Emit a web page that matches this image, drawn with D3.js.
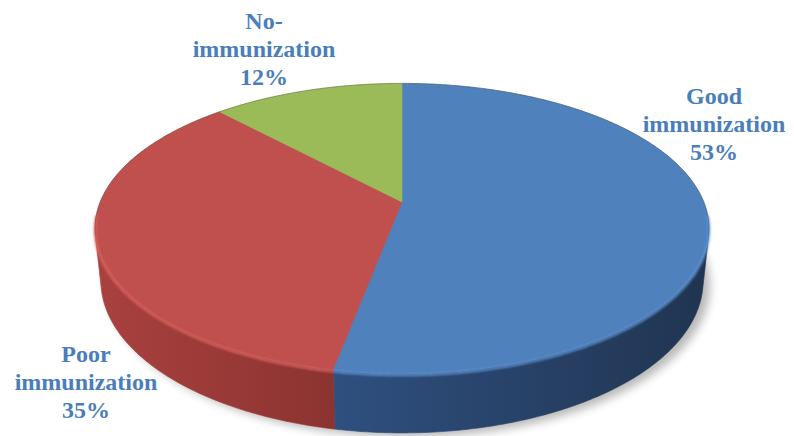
<!DOCTYPE html>
<html><head><meta charset="utf-8">
<script src="https://cdn.jsdelivr.net/npm/d3@7"></script>
<style>html,body{margin:0;padding:0;background:#fff;}svg{display:block;}</style>
</head><body>
<svg id="chart" width="794" height="436"></svg>
<script>
// ---- data ----
const categories = ["Good immunization", "Poor immunization", "No-immunization"];
const values = [53, 35, 12];
const labelLines = [["Good", "immunization", "53%"], ["Poor", "immunization", "35%"], ["No-", "immunization", "12%"]];

// ---- styles ----
const topColors = ["#4f81bd", "#c0504d", "#9bbb59"];
const sideLight = ["#2f5080", "#aa4643", "#7a9446"];
const sideDark = ["#203450", "#8a3330", "#5e7334"];
const rimColors = ["#6196d6", "#dc6663", "#b5d46e"];
const color = d3.scaleOrdinal(categories, topColors);

const svg = d3.select("#chart");
const W = 794, H = 436;

// ---- 3D perspective projection ----
const cx = 402, cy = 202;
const sinA = 0.465, cosA = Math.sqrt(1 - sinA * sinA);
const D = 4.83, f = 301.8 * D, thick = 0.197;
function project(phi, y) {
  const x3 = Math.sin(phi), z3 = -Math.cos(phi);
  const camY = y * cosA - z3 * sinA;
  const depth = D - y * sinA - z3 * cosA;
  return [cx + f * x3 / depth, cy - f * camY / depth];
}
function projCenter(y) {
  const camY = y * cosA, depth = D - y * sinA;
  return [cx, cy - f * camY / depth];
}
const visLim = Math.acos(-1 / (D * cosA));
const vis0 = visLim, vis1 = 2 * Math.PI - visLim;

const pie = d3.pie().sort(null).startAngle(0).endAngle(2 * Math.PI);
const arcs = pie(values);

function samples(a0, a1) {
  const n = Math.max(2, Math.ceil((a1 - a0) / 0.01));
  return d3.range(n + 1).map(i => a0 + (a1 - a0) * i / n);
}
const line = d3.line();

const defs = svg.append("defs");
const blur = defs.append("filter").attr("id", "shadowBlur").attr("x", "-20%").attr("y", "-20%").attr("width", "140%").attr("height", "140%");
blur.append("feGaussianBlur").attr("stdDeviation", 5);
const soft = defs.append("filter").attr("id", "soft");
soft.append("feGaussianBlur").attr("stdDeviation", 0.9);

arcs.forEach((a, i) => {
  const g = defs.append("linearGradient").attr("id", "side" + i)
    .attr("gradientUnits", "userSpaceOnUse")
    .attr("x1", 95).attr("x2", 712).attr("y1", 0).attr("y2", 0);
  if (i === 1) {
    g.append("stop").attr("offset", 0).attr("stop-color", "#a9413f");
    g.append("stop").attr("offset", 0.4).attr("stop-color", "#8b3330");
  } else {
    g.append("stop").attr("offset", 0.38).attr("stop-color", sideLight[i]);
    g.append("stop").attr("offset", 1).attr("stop-color", sideDark[i]);
  }
});

// ---- shadow ----
const shadowPts = samples(0, 2 * Math.PI).map(p => project(p, -thick));
svg.append("path")
  .attr("d", line(shadowPts) + "Z")
  .attr("transform", "translate(7,4)")
  .attr("fill", "#000").attr("opacity", 0.28)
  .attr("filter", "url(#shadowBlur)");

// ---- sides ----
arcs.forEach((a, i) => {
  const s0 = Math.max(a.startAngle, vis0), s1 = Math.min(a.endAngle, vis1);
  if (s1 <= s0) return;
  const ang = samples(s0, s1);
  const topPts = ang.map(p => project(p, 0));
  const botPts = ang.slice().reverse().map(p => project(p, -thick));
  svg.append("path")
    .attr("d", line(topPts.concat(botPts)) + "Z")
    .attr("fill", `url(#side${i})`)
    .attr("stroke", `url(#side${i})`).attr("stroke-width", 0.6);
});

// ---- top faces ----
arcs.forEach((a, i) => {
  const pts = [projCenter(0)].concat(samples(a.startAngle, a.endAngle).map(p => project(p, 0)));
  svg.append("path")
    .attr("d", line(pts) + "Z")
    .attr("fill", color(categories[i]))
    .attr("stroke", color(categories[i])).attr("stroke-width", 0.6)
    .attr("stroke-linejoin", "round");
});

// ---- rim highlight on front edge ----
arcs.forEach((a, i) => {
  const s0 = Math.max(a.startAngle, vis0 - 0.15), s1 = Math.min(a.endAngle, vis1 + 0.15);
  if (s1 <= s0) return;
  const pts = samples(s0, s1).map(p => { const q = project(p, 0); return [q[0], q[1] + 1.2]; });
  svg.append("path")
    .attr("d", line(pts))
    .attr("fill", "none")
    .attr("stroke", rimColors[i]).attr("stroke-width", 2.6)
    .attr("opacity", 0.85)
    .attr("filter", "url(#soft)");
});

// ---- back edge dark outline ----
const backPts = samples(vis1, vis0 + 2 * Math.PI).map(p => project(p, 0));
svg.append("path")
  .attr("d", line(backPts))
  .attr("fill", "none")
  .attr("stroke", "#3a3a3a").attr("stroke-width", 0.8).attr("opacity", 0.45);

// ---- labels ----
const labelPos = [[714, 104], [86, 362], [264, 29]];
const lineGap = 27.8;
labelLines.forEach((lines, i) => {
  const t = svg.append("text")
    .attr("text-anchor", "middle")
    .attr("font-family", "'Liberation Serif', 'Times New Roman', serif")
    .attr("font-weight", "bold")
    .attr("font-size", 24)
    .attr("fill", "#4a7ebb");
  lines.forEach((l, j) => {
    t.append("tspan").attr("x", labelPos[i][0]).attr("y", labelPos[i][1] + j * lineGap).text(l);
  });
});
</script>
</body></html>
